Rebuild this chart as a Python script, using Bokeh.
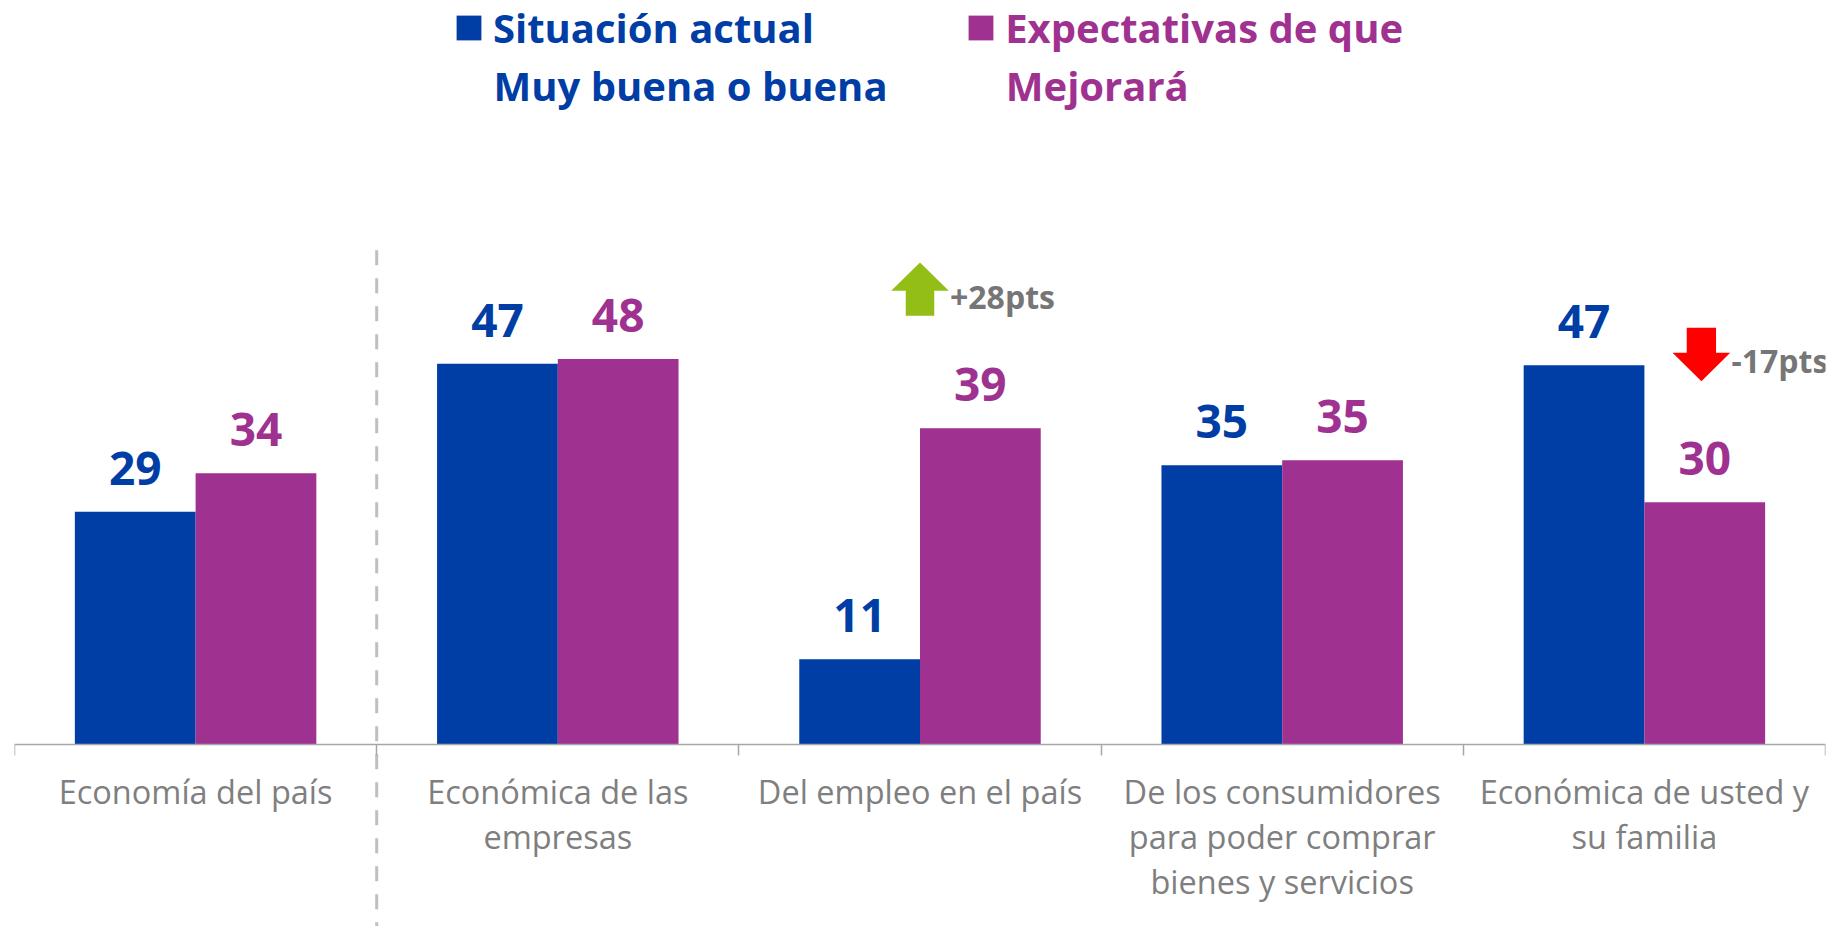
from bokeh.plotting import figure
from bokeh.models import ColumnDataSource, FixedTicker, LabelSet, Legend, LegendItem
from bokeh.core.properties import value
from bokeh.embed import file_html
from bokeh.resources import INLINE

# ---- data (bar heights; labels show them rounded) ----
categories = [
    "Economía del país",
    "Económica de las\nempresas",
    "Del empleo en el país",
    "De los consumidores\npara poder comprar\nbienes y servicios",
    "Económica de usted y\nsu familia",
]
situacion = [28.9, 47.3, 10.6, 34.7, 47.1]
expectativas = [33.7, 47.9, 39.3, 35.3, 30.1]
series_line1 = ["Situación actual", "Expectativas de que"]
series_line2 = ["Muy buena o buena", "Mejorará"]

# ---- style ----
BLUE = "#003DA5"
MAG = "#9F3190"
GRAY = "#7F7F7F"
AXIS = "#A6A6A6"
FONT = "Open Sans"

PX_X = 362.2   # pixels per category
PX_Y = 8.05    # pixels per percentage point
FRAME_W, FRAME_H = 1811, 926
ZERO_FROM_TOP = 744

n = len(categories)
idx = list(range(n))
sit_r = [int(round(v)) for v in situacion]
exp_r = [int(round(v)) for v in expectativas]
src = ColumnDataSource(dict(
    xb=[i - 1 / 6 for i in idx],
    xm=[i + 1 / 6 for i in idx],
    sit=situacion,
    exp=expectativas,
    sit_lbl=[str(v) for v in sit_r],
    exp_lbl=[str(v) for v in exp_r],
))

Y0 = -(FRAME_H - ZERO_FROM_TOP) / PX_Y
p = figure(
    frame_width=FRAME_W, frame_height=FRAME_H,
    x_range=(-0.5, n - 0.5),
    y_range=(Y0, ZERO_FROM_TOP / PX_Y),
    output_backend="svg", toolbar_location=None, y_axis_location=None,
    min_border_left=14, min_border_right=15, min_border_top=0, min_border_bottom=0,
    outline_line_color=None,
)
p.xgrid.visible = False
p.ygrid.visible = False

rb = p.vbar(x="xb", top="sit", width=1 / 3, source=src, fill_color=BLUE, line_color=None)
rm = p.vbar(x="xm", top="exp", width=1 / 3, source=src, fill_color=MAG, line_color=None)

for field, lbl, col in (("xb", "sit", BLUE), ("xm", "exp", MAG)):
    p.add_layout(LabelSet(
        x=field, y=lbl, text=lbl + "_lbl", source=src, y_offset=27,
        text_align="center", text_baseline="alphabetic",
        text_font=value(FONT), text_font_style="bold", text_font_size="46px",
        text_color=col,
    ))

# separator between the country-level item and the rest
p.segment(x0=[0.5], y0=[61.4], x1=[0.5], y1=[Y0],
          line_color="#BFBFBF", line_width=3, line_dash="15 13")

# category axis at zero
ax = p.xaxis[0]
ax.fixed_location = 0
ax.ticker = FixedTicker(ticks=idx, minor_ticks=[i - 0.5 for i in range(n + 1)])
ax.major_label_overrides = {i: c for i, c in zip(idx, categories)}
ax.axis_line_color = AXIS
ax.axis_line_width = 1.5
ax.major_tick_line_color = None
ax.major_tick_out = 0
ax.major_tick_in = 0
ax.minor_tick_line_color = AXIS
ax.minor_tick_line_width = 1.5
ax.minor_tick_out = 11
ax.minor_tick_in = 0
ax.major_label_standoff = 13
ax.major_label_text_font = FONT
ax.major_label_text_font_size = "32.5px"
ax.major_label_text_line_height = 1.0
ax.major_label_text_color = GRAY
ax.major_label_orientation = "horizontal"

# change annotations (biggest gain / biggest drop, from the shown values)
diffs = [e - s for s, e in zip(sit_r, exp_r)]
up = diffs.index(max(diffs))
dn = diffs.index(min(diffs))


def arrow_patch(cx, y0, direction, shaft_w=28.5, shaft_len=25, head_w=57.6, head_len=28.4):
    sw = shaft_w / 2 / PX_X
    hw = head_w / 2 / PX_X
    sl = shaft_len / PX_Y
    hl = head_len / PX_Y
    d = direction
    xs = [cx - sw, cx + sw, cx + sw, cx + hw, cx, cx - hw, cx - sw]
    ys = [y0, y0, y0 + d * sl, y0 + d * sl, y0 + d * (sl + hl), y0 + d * sl, y0 + d * sl]
    return xs, ys


y_up = max(situacion[up], expectativas[up]) + 112.3 / PX_Y
xs, ys = arrow_patch(up, y_up, +1)
p.patch(xs, ys, fill_color="#93BE16", line_color=None)

cx_dn = dn + 57 / PX_X
y_dn = max(situacion[dn], expectativas[dn]) + 37.5 / PX_Y
xs, ys = arrow_patch(cx_dn, y_dn, -1, shaft_w=29.3, shaft_len=25, head_w=57.7, head_len=28.4)
p.patch(xs, ys, fill_color="#FF0000", line_color=None)

delta_src = ColumnDataSource(dict(
    x=[up, cx_dn], y=[y_up, y_dn],
    dy=[7, -45.4],
    t=[f"{diffs[up]:+d}pts", f"{diffs[dn]:+d}pts"],
))
p.add_layout(LabelSet(x="x", y="y", text="t", source=delta_src, x_offset=30, y_offset="dy",
                      text_font=value(FONT), text_font_style="bold", text_font_size="32px",
                      text_color="#767676", text_baseline="alphabetic", text_align="left"))

# legends (first line with the swatch, second line below it)
for r, name, col, lx in ((rb, series_line1[0], BLUE, 438.9), (rm, series_line1[1], MAG, 951.2)):
    lg = Legend(items=[LegendItem(label=name, renderers=[r])], location=(lx, 871),
                label_text_font=FONT, label_text_font_style="bold", label_text_font_size="40px",
                label_text_color=col, glyph_width=31, glyph_height=31, label_standoff=9,
                padding=0, spacing=0, margin=0, border_line_color=None,
                background_fill_alpha=0)
    p.add_layout(lg)

leg2 = ColumnDataSource(dict(x=[479, 991.3], y=[826, 826], t=series_line2, c=[BLUE, MAG]))
p.add_layout(LabelSet(x="x", y="y", text="t", source=leg2, x_units="screen", y_units="screen",
                      text_font=value(FONT), text_font_style="bold", text_font_size="40px",
                      text_color="c", text_baseline="alphabetic", text_align="left"))

open("out.html", "w").write(file_html(p, INLINE))
